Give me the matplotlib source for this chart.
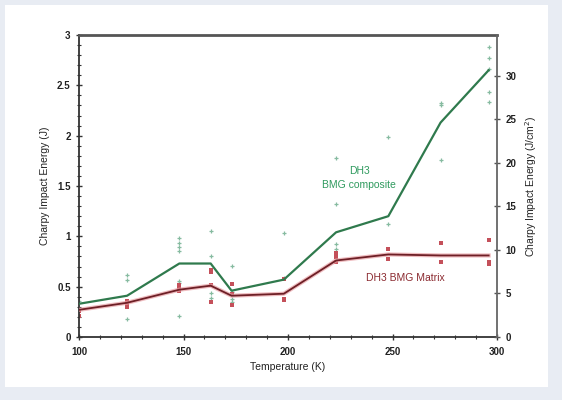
import matplotlib
matplotlib.use("Agg")
import matplotlib.pyplot as plt
from matplotlib.patches import Rectangle
from matplotlib.ticker import MultipleLocator

plt.rcParams['font.family'] = ['Liberation Sans', 'DejaVu Sans']

# Mean curves
temps = [100, 123, 148, 163, 173, 198, 223, 248, 273, 296]
composite_mean = [0.33, 0.41, 0.73, 0.73, 0.46, 0.57, 1.04, 1.20, 2.13, 2.65]
matrix_mean = [0.27, 0.34, 0.47, 0.51, 0.41, 0.43, 0.76, 0.82, 0.81, 0.81]

# Individual measurements
comp_pts_T = [100, 123, 123, 123, 148, 148, 148, 148, 148, 148, 148,
              163, 163, 163, 163, 173, 173, 173, 173, 198, 198,
              223, 223, 223, 223, 248, 248, 273, 273, 273,
              296, 296, 296, 296, 296]
comp_pts_E = [0.36, 0.62, 0.57, 0.18, 0.98, 0.93, 0.89, 0.85, 0.56, 0.54, 0.21,
              1.05, 0.80, 0.44, 0.39, 0.71, 0.45, 0.38, 0.35, 1.03, 0.59,
              1.78, 1.32, 0.92, 0.87, 1.99, 1.12, 2.32, 2.30, 1.76,
              2.88, 2.77, 2.66, 2.43, 2.33]
mat_pts_T = [100, 100, 123, 123, 123, 148, 148, 148,
             163, 163, 163, 163, 173, 173, 173, 198, 198, 198,
             223, 223, 223, 248, 248, 273, 273, 296, 296, 296]
mat_pts_E = [0.21, 0.26, 0.36, 0.32, 0.30, 0.52, 0.49, 0.46,
             0.67, 0.65, 0.52, 0.35, 0.53, 0.43, 0.32, 0.58, 0.38, 0.37,
             0.83, 0.79, 0.75, 0.87, 0.77, 0.93, 0.75, 0.96, 0.75, 0.73]

J_TO_JCM2 = 11.57

fig = plt.figure(figsize=(5.62, 4.0), dpi=100)
fig.patch.set_facecolor('#e8ecf3')
fig.patches.append(Rectangle((5/562, 1-387/400), 543/562, 382/400,
                             transform=fig.transFigure, facecolor='white',
                             edgecolor='none', zorder=-10))

ax = fig.add_axes([79/562, 1-337/400, 418/562, 302/400])
ax.set_facecolor('white')

green_line = '#2f7a4d'
green_pt = '#86bba0'
red_line = '#6e1f26'
red_pt = '#c4505a'

ax.plot(comp_pts_T, comp_pts_E, linestyle='none', marker='+', ms=3.0,
        mew=0.9, color=green_pt, zorder=2)
ax.plot(mat_pts_T, mat_pts_E, linestyle='none', marker='s', ms=3.4,
        mew=0, color=red_pt, zorder=2)
ax.plot(temps, composite_mean, color=green_line, lw=1.6, zorder=3)
ax.plot(temps, matrix_mean, color='#e8a0a5', lw=3.0, zorder=3, alpha=0.7)
ax.plot(temps, matrix_mean, color=red_line, lw=1.3, zorder=4)

ax.set_xlim(100, 300)
ax.set_ylim(0, 3)
ax.xaxis.set_major_locator(MultipleLocator(50))
ax.xaxis.set_minor_locator(MultipleLocator(10))
ax.yaxis.set_minor_locator(MultipleLocator(0.1))
ax.set_yticks([0, 0.5, 1, 1.5, 2, 2.5, 3])
ax.set_yticklabels(['0', '0.5', '1', '1.5', '2', '2.5', '3'])
ax.tick_params(axis='both', which='major', direction='inout', length=5,
               width=1.0, labelsize=7, colors='#333333', labelcolor='#222222')
ax.tick_params(axis='both', which='minor', direction='inout', length=3,
               width=0.8, colors='#333333')
ax.tick_params(axis='x', pad=5)
for lbl in ax.get_xticklabels() + ax.get_yticklabels():
    lbl.set_fontweight('bold')

for side in ['left', 'bottom']:
    ax.spines[side].set_color('#333333')
    ax.spines[side].set_linewidth(1.3)
ax.spines['top'].set_color('#555555')
ax.spines['top'].set_linewidth(2.0)
ax.spines['right'].set_visible(False)

ax.set_xlabel('Temperature (K)', fontsize=7.5, color='#222222', labelpad=3)
ax.set_ylabel('Charpy Impact Energy (J)', fontsize=7.5, color='#222222', labelpad=5)

ax2 = ax.twinx()
ax2.set_ylim(0, 3 * J_TO_JCM2)
ax2.yaxis.set_major_locator(MultipleLocator(5))
ax2.tick_params(axis='y', which='major', direction='inout', length=5,
                width=1.0, labelsize=7, colors='#555555', labelcolor='#222222')
for lbl in ax2.get_yticklabels():
    lbl.set_fontweight('bold')
for side in ['left', 'top', 'bottom']:
    ax2.spines[side].set_visible(False)
ax2.spines['right'].set_color('#666666')
ax2.spines['right'].set_linewidth(1.3)
ax2.set_ylabel('Charpy Impact Energy (J/cm$^2$)', fontsize=7.5, color='#222222',
               labelpad=5)

ax.text(234, 1.58, 'DH3\nBMG composite', ha='center', va='center',
        fontsize=7.5, color='#2f9a5e', linespacing=1.4)
ax.text(256, 0.59, 'DH3 BMG Matrix', ha='center', va='center',
        fontsize=7.5, color='#8b2a30')

fig.savefig('out.png', dpi=100, facecolor=fig.get_facecolor())
